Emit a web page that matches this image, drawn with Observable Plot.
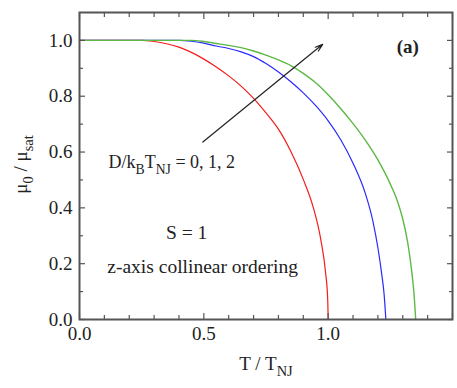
<!DOCTYPE html>
<html>
<head>
<meta charset="utf-8">
<script src="https://cdn.jsdelivr.net/npm/d3@7"></script>
<script src="https://cdn.jsdelivr.net/npm/@observablehq/plot@0.6"></script>
<style>
  html, body { margin: 0; padding: 0; background: #fff; }
  svg { display: block; }
</style>
</head>
<body>
<div id="chart"></div>
<script>
// ---- data ----
const redT   = [0, 0.25, 0.30, 0.35, 0.40, 0.45, 0.50, 0.55, 0.60, 0.65, 0.70, 0.75, 0.80, 0.85, 0.90, 0.94, 0.97, 0.99, 0.998, 1.0];
const redM   = [1, 1, 0.996, 0.988, 0.976, 0.957, 0.933, 0.905, 0.873, 0.836, 0.792, 0.740, 0.682, 0.602, 0.502, 0.402, 0.288, 0.165, 0.075, 0];
const blueT  = [0, 0.40, 0.45, 0.50, 0.55, 0.60, 0.65, 0.70, 0.75, 0.80, 0.85, 0.90, 0.95, 1.00, 1.05, 1.10, 1.15, 1.18, 1.20, 1.215, 1.225, 1.232];
const blueM  = [1, 1, 0.997, 0.990, 0.980, 0.971, 0.959, 0.942, 0.917, 0.887, 0.852, 0.812, 0.766, 0.712, 0.645, 0.560, 0.450, 0.352, 0.257, 0.165, 0.090, 0];
const greenT = [0, 0.45, 0.50, 0.55, 0.60, 0.65, 0.70, 0.75, 0.80, 0.85, 0.90, 0.95, 1.00, 1.05, 1.10, 1.15, 1.20, 1.25, 1.28, 1.30, 1.32, 1.335, 1.345, 1.352];
const greenM = [1, 1, 0.996, 0.989, 0.982, 0.974, 0.962, 0.947, 0.930, 0.910, 0.882, 0.848, 0.805, 0.756, 0.702, 0.642, 0.572, 0.485, 0.420, 0.360, 0.275, 0.180, 0.095, 0];

const xMajorTicks = [0, 0.5, 1.0, 1.5];
const xMinorTicks = [0.1, 0.2, 0.3, 0.4, 0.6, 0.7, 0.8, 0.9, 1.1, 1.2, 1.3, 1.4];
const xTickLabels = [0, 0.5, 1.0];
const yMajorTicks = [0, 0.2, 0.4, 0.6, 0.8, 1.0];
const yMinorTicks = [0.1, 0.3, 0.5, 0.7, 0.9];
const yTickLabels = [0, 0.2, 0.4, 0.6, 0.8, 1.0];

// arrow (start / end in data units)
const arrowStart = [0.496, 0.636];
const arrowEnd   = [0.978, 0.986];

// annotations
const noteT    = [1.32, 0.117, 0.431, 0.495];
const noteM    = [0.976, 0.562, 0.312, 0.190];
const noteText = ["(a)", "D/k_{B}T_{NJ} = 0, 1, 2", "S = 1", "z-axis collinear ordering"];
const noteSize = [19, 18, 19.5, 19.5];
const noteWeight = ["bold", "normal", "normal", "normal"];
const noteAnchor = ["middle", "start", "middle", "middle"];
const xLabel = "T / T_{NJ}";
const yLabel = "μ_{0} / μ_{sat}";

const toRows = (T, M) => T.map((t, i) => ({T: t, m: M[i]}));
const red = toRows(redT, redM), blue = toRows(blueT, blueM), green = toRows(greenT, greenM);

const FONT = "'Liberation Serif', 'Times New Roman', serif";
const AX = "#555";
const fmt = d3.format(".1f");
const blank = () => "";

const plot = Plot.plot({
  width: 457,
  height: 388,
  marginLeft: 79,
  marginRight: 5,
  marginTop: 12,
  marginBottom: 69,
  style: {fontFamily: FONT, fontSize: "19px", color: "#222", background: "#fff"},
  x: {domain: [0, 1.5], label: null},
  y: {domain: [0, 1.1], label: null},
  marks: [
    // curves
    Plot.line(red,   {x: "T", y: "m", stroke: "#f41c1c", strokeWidth: 1.2, curve: "monotone-x"}),
    Plot.line(blue,  {x: "T", y: "m", stroke: "#2a2aff", strokeWidth: 1.2, curve: "monotone-x"}),
    Plot.line(green, {x: "T", y: "m", stroke: "#5cb844", strokeWidth: 1.4, curve: "monotone-x"}),
    // arrow
    Plot.arrow([{x1: arrowStart[0], y1: arrowStart[1], x2: arrowEnd[0], y2: arrowEnd[1]}],
      {x1: "x1", y1: "y1", x2: "x2", y2: "y2", stroke: "#222", strokeWidth: 1.2, headLength: 10, headAngle: 36}),
    // tick labels
    Plot.axisX(xTickLabels, {anchor: "bottom", tickSize: 0, tickPadding: 7, tickFormat: fmt, fill: "#222", label: null}),
    Plot.axisY(yTickLabels, {anchor: "left", tickSize: 0, tickPadding: 7, tickFormat: fmt, fill: "#222", label: null}),
    // inward ticks on all sides
    Plot.axisX(xMajorTicks, {anchor: "bottom", tickSize: -6, tickFormat: blank, stroke: AX, strokeWidth: 1.2, label: null}),
    Plot.axisX(xMinorTicks, {anchor: "bottom", tickSize: -4, tickFormat: blank, stroke: AX, strokeWidth: 1.2, label: null}),
    Plot.axisX(xMajorTicks, {anchor: "top", tickSize: -6, tickFormat: blank, stroke: AX, strokeWidth: 1.2, label: null}),
    Plot.axisX(xMinorTicks, {anchor: "top", tickSize: -4, tickFormat: blank, stroke: AX, strokeWidth: 1.2, label: null}),
    Plot.axisY(yMajorTicks, {anchor: "left", tickSize: -6, tickFormat: blank, stroke: AX, strokeWidth: 1.2, label: null}),
    Plot.axisY(yMinorTicks, {anchor: "left", tickSize: -4, tickFormat: blank, stroke: AX, strokeWidth: 1.2, label: null}),
    Plot.axisY(yMajorTicks, {anchor: "right", tickSize: -6, tickFormat: blank, stroke: AX, strokeWidth: 1.2, label: null}),
    Plot.axisY(yMinorTicks, {anchor: "right", tickSize: -4, tickFormat: blank, stroke: AX, strokeWidth: 1.2, label: null}),
    Plot.frame({stroke: AX, strokeWidth: 2}),
    // annotations
    ...noteText.map((t, i) => Plot.text([t], {
      x: () => noteT[i], y: () => noteM[i], text: d => d, fontSize: noteSize[i], fontWeight: noteWeight[i],
      textAnchor: noteAnchor[i], lineAnchor: "middle", fill: "#222"
    })),
    // axis titles
    Plot.text([xLabel], {text: d => d, frameAnchor: "bottom", dy: 44.5, fontSize: 19, fill: "#222",
      textAnchor: "middle", lineAnchor: "middle"}),
    Plot.text([yLabel], {text: d => d, frameAnchor: "left", dx: -59, dy: -1.5, rotate: -90, fontSize: 19, fill: "#222",
      textAnchor: "middle", lineAnchor: "middle"})
  ]
});

document.getElementById("chart").appendChild(plot);

// turn _{...} into real subscript tspans
d3.select(plot).selectAll("text").each(function() {
  const s = this.textContent;
  if (!s.includes("_{")) return;
  const el = d3.select(this);
  const fs = parseFloat(getComputedStyle(this).fontSize) || 19;
  const shift = Math.round(fs * 0.33);
  el.text(null);
  const parts = s.split(/(_\{[^}]*\})/).filter(p => p);
  let down = false;
  for (const p of parts) {
    const m = p.match(/^_\{([^}]*)\}$/);
    if (m) {
      el.append("tspan").attr("dy", down ? 0 : shift).attr("font-size", fs * 0.76).text(m[1]);
      down = true;
    } else {
      el.append("tspan").attr("dy", down ? -shift : 0).text(p);
      down = false;
    }
  }
});
</script>
</body>
</html>
